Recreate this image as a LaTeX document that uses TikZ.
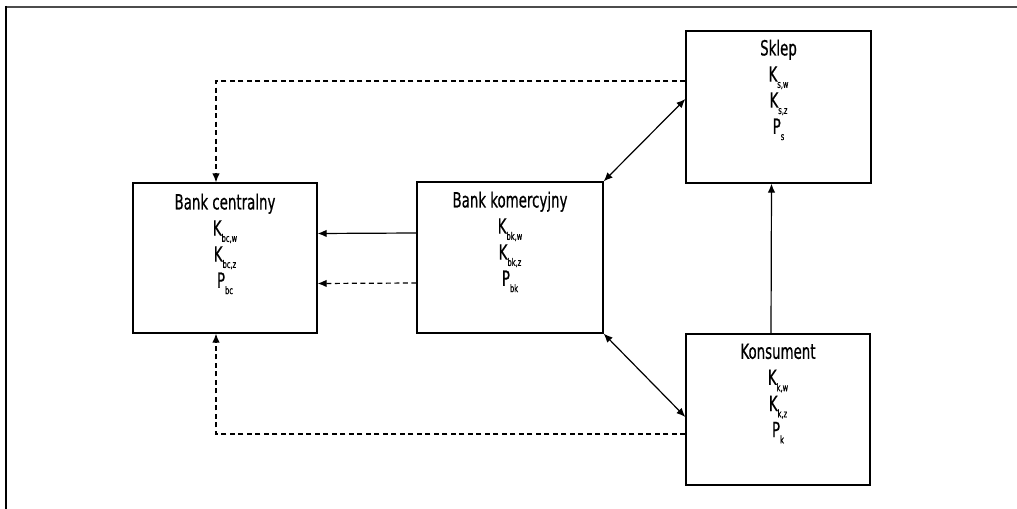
\documentclass[tikz,border=0pt]{standalone}
\usepackage{fontspec}
\setmainfont{DejaVu Sans Condensed}[FakeStretch=0.71, FakeBold=0.6]
\usetikzlibrary{arrows.meta}
% lowered small index after a symbol
\newcommand{\idx}[1]{\raisebox{-0.55ex}{\fontsize{10.5}{11}\selectfont #1}}
\tikzset{
  agent/.style={draw, line width=1.25bp, minimum width=#1, inner sep=0pt},
  agent/.default=185bp,
  vars/.style={anchor=north, align=center, inner sep=0pt,
    font=\fontsize{21}{26.2}\selectfont},
  flow/.style={line width=1.2bp, -{Latex[length=9bp,width=7.5bp]}},
  twoway/.style={line width=1.2bp, {Latex[length=9bp,width=7.5bp]}-{Latex[length=9bp,width=7.5bp]}},
  dflow/.style={flow, dash pattern=on 5bp off 3.5bp}
}
\begin{document}
\begin{tikzpicture}[x=1bp, y=-1bp]
\useasboundingbox (0,0) rectangle (1017,509);
% outer frame: top and left edges only
\draw[line width=2.4bp, black!70] (5,7) -- (1017,7);
\draw[line width=1.8bp] (6,6) -- (6,509);

% boxes
\node[agent=184bp, minimum height=150bp] (bc) at (225,258) {};
\node[agent=186bp, minimum height=151bp] (bk) at (510,257.5) {};
\node[agent=185bp, minimum height=152bp] (sk) at (778.5,107) {};
\node[agent=184bp, minimum height=151bp] (ko) at (778,409.5) {};

% contents
\node[vars] (bct) at ([yshift=-11bp]bc.north) {Bank centralny\\K\idx{bc,w}\\K\idx{bc,z}\\P\idx{bc}};
\node[vars] (bkt) at ([yshift=-10bp]bk.north) {Bank komercyjny\\K\idx{bk,w}\\K\idx{bk,z}\\P\idx{bk}};
\node[vars] (skt) at ([yshift=-9bp]sk.north) {Sklep\\K\idx{s,w}\\K\idx{s,z}\\P\idx{s}};
\node[vars] (kot) at ([yshift=-10bp]ko.north) {Konsument\\K\idx{k,w}\\K\idx{k,z}\\P\idx{k}};

% connections
\draw[flow] ([yshift=24.5bp]bk.west) -- ([yshift=24.5bp]bc.east);
\draw[dflow] ([yshift=-25.5bp]bk.west) -- ([yshift=-25.5bp]bc.east);
\draw[dflow] ([yshift=26bp]sk.west) -| ([xshift=-9bp]bc.north);
\draw[dflow] ([yshift=-24.5bp]ko.west) -| ([xshift=-9bp]bc.south);
\draw[twoway] ([yshift=8bp]sk.west) -- (bk.north east);
\draw[twoway] (bk.south east) -- ([yshift=-7.5bp]ko.west);
\draw[flow] ([xshift=-7bp]ko.north) -- ([xshift=-7bp]sk.south);
\end{tikzpicture}
\end{document}
